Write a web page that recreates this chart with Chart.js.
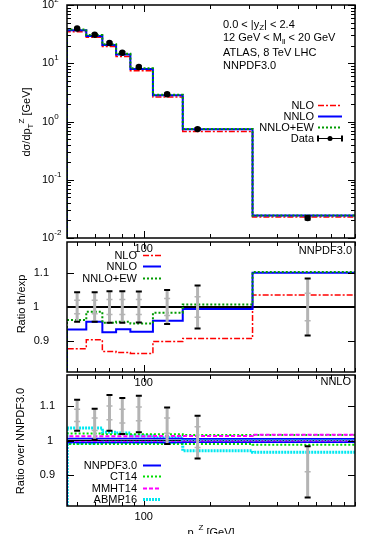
<!DOCTYPE html>
<html>
<head>
<meta charset="utf-8">
<script src="https://cdn.jsdelivr.net/npm/chart.js@4.4.0/dist/chart.umd.min.js"></script>
<style>
body { margin: 0; background: #fff; }
#wrap { position: relative; width: 374px; height: 534px; overflow: hidden; }
canvas { position: absolute; left: 0; top: 0; }
</style>
</head>
<body>
<div id="wrap">
<canvas id="c1" width="374" height="534"></canvas>
<canvas id="c2" width="374" height="534"></canvas>
<canvas id="c3" width="374" height="534"></canvas>
</div>
<script>
// pT bins (GeV): step edges and data point positions
var binEdges = [45, 55, 65, 75, 87, 110, 150, 310, 900];
var ptCentres = [50, 60, 70, 80, 95, 127.5, 175, 550];
var xTicks = [50, 60, 70, 80, 90, 100, 200, 300, 400, 500, 600, 700, 800, 900];

// top panel: dsigma/dpT
var dataXS = [39.6, 30.9, 22.2, 15.1, 8.6, 2.94, 0.74, 0.0221];
var dataXSErr = [0.04, 0.04, 0.045, 0.045, 0.045, 0.05, 0.06, 0.08];
var nloXS = [34.8, 27.9, 19.3, 13.1, 7.43, 2.64, 0.672, 0.0229];
var nnloXS = [37.0, 29.5, 20.6, 14.1, 8.0, 2.82, 0.735, 0.0243];
var nnloEwXS = [38.1, 30.5, 21.2, 14.5, 8.19, 2.89, 0.745, 0.0244];

// middle panel: theory / data
var nloRatio = [0.878, 0.904, 0.870, 0.867, 0.864, 0.899, 0.908, 1.035];
var nnloRatio = [0.934, 0.957, 0.926, 0.935, 0.928, 0.960, 0.994, 1.100];
var nnloEwRatio = [0.962, 0.986, 0.954, 0.957, 0.952, 0.983, 1.007, 1.102];
var expErr = [0.043, 0.043, 0.046, 0.046, 0.045, 0.05, 0.063, 0.083];
var expStat = [0.02, 0.02, 0.022, 0.022, 0.022, 0.025, 0.03, 0.04];

// bottom panel: ratio over NNPDF3.0 (NNLO)
var dataOver = [1.073, 1.047, 1.080, 1.071, 1.077, 1.043, 1.010, 0.909];
var dataOverErr = [0.045, 0.045, 0.052, 0.052, 0.053, 0.053, 0.062, 0.074];
var dataOverStat = [0.018, 0.018, 0.02, 0.02, 0.02, 0.022, 0.03, 0.0];
var nnpdfUp = [1.006, 1.006, 1.006, 1.006, 1.006, 1.006, 1.005, 1.005];
var nnpdfLo = [0.994, 0.994, 0.994, 0.994, 0.994, 0.994, 0.995, 0.995];
var ct14Up = [1.020, 1.020, 1.018, 1.018, 1.018, 1.018, 1.016, 1.016];
var ct14Lo = [0.990, 0.990, 0.990, 0.990, 0.990, 0.990, 0.990, 0.988];
var mmhtUp = [1.012, 1.012, 1.012, 1.012, 1.012, 1.013, 1.013, 1.017];
var mmhtLo = [0.996, 0.996, 0.996, 0.996, 0.996, 0.996, 0.997, 0.997];
var abmpUp = [1.036, 1.036, 1.024, 1.022, 1.014, 1.008, 1.003, 1.003];
var abmpLo = [0.993, 0.993, 0.995, 0.995, 0.995, 0.995, 0.970, 0.966];

var FONT = "'Liberation Sans', Arial, sans-serif";
var RED = '#ff0000', BLUE = '#0000ff', GREEN = '#009a00';
var LIME = '#00dd00', MAGENTA = '#ff00ff', CYAN = '#00e8f0', GREY = '#b4b4b4';

function steps(vals, floor) {
    var pts = [{x: binEdges[0], y: floor}];
    for (var i = 0; i < vals.length; i++) {
        pts.push({x: binEdges[i], y: vals[i]});
        pts.push({x: binEdges[i + 1], y: vals[i]});
    }
    return pts;
}

function stepSet(vals, floor, color, width, dash, order) {
    return {
        data: steps(vals, floor), borderColor: color, borderWidth: width,
        borderDash: dash, pointRadius: 0, fill: false, tension: 0, order: order
    };
}

function rich(ctx, parts, x, y, align) {
    var w = 0;
    parts.forEach(function (p) {
        ctx.font = (p[1] ? 8 : 11) + 'px ' + FONT;
        w += ctx.measureText(p[0]).width;
    });
    if (align == 'right') x -= w;
    else if (align == 'center') x -= w / 2;
    ctx.textBaseline = 'middle';
    ctx.textAlign = 'left';
    ctx.fillStyle = '#000';
    parts.forEach(function (p) {
        ctx.font = (p[1] ? 8 : 11) + 'px ' + FONT;
        var dy = p[1] == 'sub' ? 3.5 : (p[1] == 'sup' ? -5 : 0);
        ctx.fillText(p[0], x, y + dy);
        x += ctx.measureText(p[0]).width;
    });
}

function vtitle(ctx, parts, x, y) {
    ctx.save();
    ctx.translate(x, y);
    ctx.rotate(-Math.PI / 2);
    rich(ctx, parts, 0, 0, 'center');
    ctx.restore();
}

function frame(chart, yMajor, yMinor) {
    var ctx = chart.ctx, a = chart.chartArea, xs = chart.scales.x, ys = chart.scales.y;
    ctx.save();
    ctx.setLineDash([]);
    ctx.strokeStyle = '#000';
    ctx.lineWidth = 1;
    ctx.beginPath();
    xTicks.forEach(function (v) {
        var px = Math.round(xs.getPixelForValue(v)) + 0.5, len = v == 100 ? 7 : 4;
        ctx.moveTo(px, a.bottom); ctx.lineTo(px, a.bottom - len);
        ctx.moveTo(px, a.top); ctx.lineTo(px, a.top + len);
    });
    [[yMajor, 7], [yMinor, 4]].forEach(function (g) {
        g[0].forEach(function (v) {
            var py = Math.round(ys.getPixelForValue(v)) + 0.5;
            ctx.moveTo(a.left, py); ctx.lineTo(a.left + g[1], py);
            ctx.moveTo(a.right, py); ctx.lineTo(a.right - g[1], py);
        });
    });
    ctx.stroke();
    ctx.lineWidth = 1.5;
    ctx.strokeRect(a.left, a.top, a.right - a.left, a.bottom - a.top);
    rich(ctx, [['100']], xs.getPixelForValue(100), a.bottom + 11, 'center');
    ctx.restore();
}

function errBar(ctx, px, yLo, yHi, sLo, sHi) {
    ctx.save();
    ctx.setLineDash([]);
    ctx.strokeStyle = '#000';
    ctx.lineWidth = 1;
    ctx.beginPath();
    ctx.moveTo(px, yLo); ctx.lineTo(px, yHi);
    ctx.stroke();
    ctx.strokeStyle = GREY;
    ctx.lineWidth = 3;
    ctx.beginPath();
    ctx.moveTo(px, yLo); ctx.lineTo(px, yHi);
    ctx.stroke();
    ctx.lineWidth = 1.5;
    ctx.beginPath();
    ctx.moveTo(px - 3, sLo); ctx.lineTo(px + 3, sLo);
    ctx.moveTo(px - 3, sHi); ctx.lineTo(px + 3, sHi);
    ctx.stroke();
    ctx.strokeStyle = '#000';
    ctx.lineWidth = 2;
    ctx.beginPath();
    ctx.moveTo(px - 3, yLo); ctx.lineTo(px + 3, yLo);
    ctx.moveTo(px - 3, yHi); ctx.lineTo(px + 3, yHi);
    ctx.stroke();
    ctx.restore();
}

function legend(ctx, items, xText, y0, dy, x1, x2) {
    items.forEach(function (it, i) {
        var y = Math.round(y0 + i * dy) + 0.5;
        rich(ctx, [[it.label]], xText, y, 'right');
        ctx.save();
        ctx.strokeStyle = it.color;
        ctx.lineWidth = it.width;
        ctx.setLineDash(it.dash || []);
        ctx.beginPath();
        ctx.moveTo(x1, y); ctx.lineTo(x2, y);
        ctx.stroke();
        if (it.data) {
            ctx.setLineDash([]);
            ctx.lineWidth = 2;
            ctx.beginPath();
            ctx.moveTo(x1, y - 3); ctx.lineTo(x1, y + 3);
            ctx.moveTo(x2, y - 3); ctx.lineTo(x2, y + 3);
            ctx.stroke();
            ctx.fillStyle = '#000';
            ctx.beginPath();
            ctx.arc((x1 + x2) / 2, y, 2.5, 0, Math.PI * 2);
            ctx.fill();
        }
        ctx.restore();
    });
}

function makeChart(id, pad, yScale, datasets, before, after) {
    return new Chart(document.getElementById(id), {
        type: 'line',
        data: {datasets: datasets},
        options: {
            responsive: false, animation: false, devicePixelRatio: 1,
            layout: {padding: pad},
            plugins: {legend: {display: false}, tooltip: {enabled: false}},
            scales: {
                x: {type: 'logarithmic', min: 45, max: 900, display: false},
                y: Object.assign({display: false}, yScale)
            }
        },
        plugins: [{id: 'deco_' + id, beforeDatasetsDraw: before, afterDatasetsDraw: after}]
    });
}

// ---- top panel
var decades = [0.01, 0.1, 1, 10, 100];
var minorLog = [];
[0.01, 0.1, 1, 10].forEach(function (d) {
    for (var k = 2; k <= 9; k++) minorLog.push(d * k);
});
var pointsXS = ptCentres.map(function (x, i) { return {x: x, y: dataXS[i]}; });

makeChart('c1', {left: 67, right: 19, top: 5, bottom: 296},
    {type: 'logarithmic', min: 0.01, max: 100},
    [
        stepSet(nnloEwXS, 0.01, GREEN, 2, [2, 2], 1),
        stepSet(nnloXS, 0.01, BLUE, 2, [], 2),
        stepSet(nloXS, 0.01, RED, 1.5, [6, 2, 2, 2], 3),
        {data: pointsXS, showLine: false, pointRadius: 3.2, pointBackgroundColor: '#000',
         pointBorderWidth: 0, order: 0}
    ],
    null,
    function (chart) {
        var ctx = chart.ctx, xs = chart.scales.x, ys = chart.scales.y;
        ptCentres.forEach(function (x, i) {
            var px = xs.getPixelForValue(x);
            var lo = ys.getPixelForValue(dataXS[i] * (1 - dataXSErr[i]));
            var hi = ys.getPixelForValue(dataXS[i] * (1 + dataXSErr[i]));
            ctx.save();
            ctx.strokeStyle = '#000';
            ctx.lineWidth = 1;
            ctx.beginPath();
            ctx.moveTo(px, lo); ctx.lineTo(px, hi);
            ctx.moveTo(px - 3, lo); ctx.lineTo(px + 3, lo);
            ctx.moveTo(px - 3, hi); ctx.lineTo(px + 3, hi);
            ctx.stroke();
            ctx.restore();
        });
        frame(chart, decades, minorLog);
        [2, 1, 0, -1, -2].forEach(function (e) {
            var py = ys.getPixelForValue(Math.pow(10, e));
            rich(ctx, [['10'], [String(e), 'sup']], 42, py, 'left');
        });
        vtitle(ctx, [['d\u03c3/dp'], ['T', 'sub'], ['Z', 'sup'], [' [GeV]']], 27, 122);
        rich(ctx, [['0.0 < |y'], ['Z', 'sub'], ['| < 2.4']], 223, 24.5, 'left');
        rich(ctx, [['12 GeV < M'], ['ll', 'sub'], [' < 20 GeV']], 223, 38, 'left');
        rich(ctx, [['ATLAS, 8 TeV LHC']], 223, 52.5, 'left');
        rich(ctx, [['NNPDF3.0']], 223, 66, 'left');
        legend(ctx, [
            {label: 'NLO', color: RED, width: 1.5, dash: [6, 2, 2, 2]},
            {label: 'NNLO', color: BLUE, width: 2},
            {label: 'NNLO+EW', color: GREEN, width: 2, dash: [2, 2]},
            {label: 'Data', color: '#000', width: 1, data: true}
        ], 314, 105, 10.9, 318, 342);
    });

// ---- middle panel
var ratioTicks = [0.9, 1, 1.1];
makeChart('c2', {left: 67, right: 19, top: 242, bottom: 162},
    {type: 'linear', min: 0.81, max: 1.19},
    [
        stepSet(nnloEwRatio, 0.81, GREEN, 2, [2, 2], 1),
        stepSet(nnloRatio, 0.81, BLUE, 2, [], 2),
        stepSet(nloRatio, 0.81, RED, 1.5, [6, 2, 2, 2], 3)
    ],
    function (chart) {
        var ctx = chart.ctx, a = chart.chartArea, py = chart.scales.y.getPixelForValue(1);
        ctx.save();
        ctx.strokeStyle = '#000';
        ctx.lineWidth = 2;
        ctx.beginPath();
        ctx.moveTo(a.left, py); ctx.lineTo(a.right, py);
        ctx.stroke();
        ctx.restore();
    },
    function (chart) {
        var ctx = chart.ctx, xs = chart.scales.x, ys = chart.scales.y;
        ptCentres.forEach(function (x, i) {
            errBar(ctx, xs.getPixelForValue(x),
                ys.getPixelForValue(1 - expErr[i]), ys.getPixelForValue(1 + expErr[i]),
                ys.getPixelForValue(1 - expStat[i]), ys.getPixelForValue(1 + expStat[i]));
        });
        frame(chart, ratioTicks, []);
        rich(ctx, [['1.1']], 49, ys.getPixelForValue(1.1), 'right');
        rich(ctx, [['1']], 39, ys.getPixelForValue(1), 'right');
        rich(ctx, [['0.9']], 49, ys.getPixelForValue(0.9), 'right');
        vtitle(ctx, [['Ratio th/exp']], 22, 304);
        rich(ctx, [['NNPDF3.0']], 352, 251, 'right');
        legend(ctx, [
            {label: 'NLO', color: RED, width: 1.5, dash: [6, 2, 2, 2]},
            {label: 'NNLO', color: BLUE, width: 2},
            {label: 'NNLO+EW', color: GREEN, width: 2, dash: [2, 2]}
        ], 137, 255, 11.3, 143, 161);
    });

// ---- bottom panel
makeChart('c3', {left: 67, right: 19, top: 375, bottom: 28},
    {type: 'linear', min: 0.81, max: 1.19},
    [
        stepSet(nnpdfUp, 0.81, BLUE, 1.5, [], 1),
        stepSet(nnpdfLo, 0.81, BLUE, 1.5, [], 1),
        stepSet(mmhtUp, 0.81, MAGENTA, 2, [4, 2], 2),
        stepSet(mmhtLo, 0.81, MAGENTA, 2, [4, 2], 2),
        stepSet(ct14Up, 0.81, LIME, 2, [2, 2], 3),
        stepSet(ct14Lo, 0.81, LIME, 2, [2, 2], 3),
        stepSet(abmpUp, 0.81, CYAN, 3, [2, 1], 4),
        stepSet(abmpLo, 0.81, CYAN, 3, [2, 1], 4)
    ],
    function (chart) {
        var ctx = chart.ctx, a = chart.chartArea, py = chart.scales.y.getPixelForValue(1);
        ctx.save();
        ctx.strokeStyle = '#000';
        ctx.lineWidth = 1.5;
        ctx.beginPath();
        ctx.moveTo(a.left, py); ctx.lineTo(a.right, py);
        ctx.stroke();
        ctx.restore();
    },
    function (chart) {
        var ctx = chart.ctx, xs = chart.scales.x, ys = chart.scales.y;
        ptCentres.forEach(function (x, i) {
            errBar(ctx, xs.getPixelForValue(x),
                ys.getPixelForValue(dataOver[i] - dataOverErr[i]),
                ys.getPixelForValue(dataOver[i] + dataOverErr[i]),
                ys.getPixelForValue(dataOver[i] - dataOverStat[i]),
                ys.getPixelForValue(dataOver[i] + dataOverStat[i]));
        });
        frame(chart, ratioTicks, []);
        rich(ctx, [['1.1']], 55, ys.getPixelForValue(1.1), 'right');
        rich(ctx, [['1']], 53, ys.getPixelForValue(1), 'right');
        rich(ctx, [['0.9']], 55, ys.getPixelForValue(0.9), 'right');
        vtitle(ctx, [['Ratio over NNPDF3.0']], 21, 441);
        rich(ctx, [['NNLO']], 351, 382, 'right');
        legend(ctx, [
            {label: 'NNPDF3.0', color: BLUE, width: 2},
            {label: 'CT14', color: LIME, width: 2, dash: [2, 2]},
            {label: 'MMHT14', color: MAGENTA, width: 2, dash: [4, 2]},
            {label: 'ABMP16', color: CYAN, width: 3, dash: [2, 1]}
        ], 137, 465, 11.3, 143, 161);
        rich(ctx, [['p'], ['T', 'sub'], ['Z', 'sup'], [' [GeV]']], 211, 533, 'center');
    });
</script>
</body>
</html>
